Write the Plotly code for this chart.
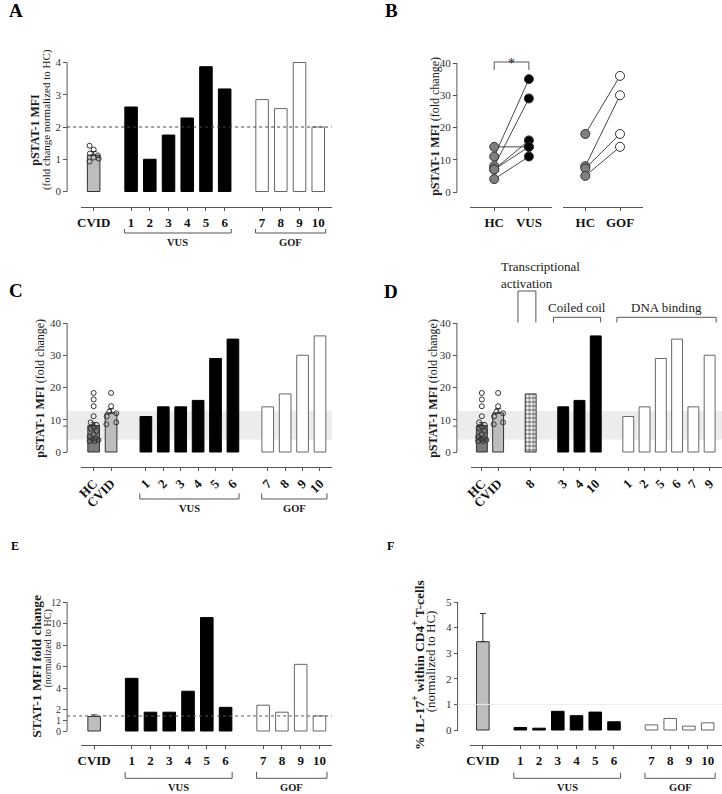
import plotly.graph_objects as go

W, H = 722, 794
FONT = "Liberation Serif"
AXC = "#555555"
TXC = "#1a1a1a"


def px(x):
    return x / W


def py(y):
    return 1 - y / H


# ---------------------------------------------------------------- data
# Panel A: pSTAT-1 MFI (fold change normalized to HC)
a_groups = [["CVID"], ["1", "2", "3", "4", "5", "6"], ["7", "8", "9", "10"]]
a_group_names = ["VUS", "GOF"]
a_cvid_mean = 1.13
a_cvid_sem = 0.11
a_cvid_dots = [1.42, 1.30, 1.18, 1.12, 1.05, 1.02, 0.93]
a_vus = [2.62, 1.00, 1.75, 2.28, 3.87, 3.18]
a_gof = [2.85, 2.57, 4.00, 2.00]
a_cutoff = 2.0
a_yticks = [0, 1, 2, 3, 4]

# Panel B: paired HC vs patient
b_cats = ["HC", "VUS"]
b_cats2 = ["HC", "GOF"]
b_hc_vus = [14, 11, 8, 7, 7, 4]
b_vus = [14, 35, 29, 16, 14, 11]
b_hc_gof = [18, 8, 7.3, 5]
b_gof = [36, 30, 18, 14]
b_yticks = [0, 10, 20, 30, 40]

# Panel C: pSTAT-1 MFI (fold change)
c_groups = [["HC", "CVID"], ["1", "2", "3", "4", "5", "6"], ["7", "8", "9", "10"]]
c_hc_mean = 8.2
c_hc_sem = 0.9
c_cvid_mean = 12.1
c_cvid_sem = 1.3
c_hc_dots = [18.3, 16.3, 14.2, 11.1, 9.2, 8.4, 7.8, 7.3, 6.5, 5.5, 4.7, 4.2, 3.7, 3.4, 3.4, 4.0]
c_cvid_dots = [18.3, 14.2, 12.5, 12.0, 11.0, 9.2, 8.6]
c_vus = [11, 14, 14, 16, 29, 35]
c_gof = [14, 18, 30, 36]
c_band = [3.9, 12.7]
c_yticks = [0, 10, 20, 30, 40]
c_hc_tick = 8

# Panel D: same values grouped by STAT1 domain
d_groups = [["HC", "CVID"], ["8"], ["3", "4", "10"], ["1", "2", "5", "6", "7", "9"]]
d_domains = ["Transcriptional<br>activation", "Coiled coil", "DNA binding"]
d_ta = [18]
d_cc = [14, 16, 36]
d_dna = [11, 14, 29, 35, 14, 30]

# Panel E: STAT-1 MFI fold change (normalized to HC)
e_groups = a_groups
e_cvid_mean = 1.35
e_cvid_sem = 0.15
e_vus = [4.9, 1.75, 1.75, 3.7, 10.55, 2.2]
e_gof = [2.4, 1.75, 6.2, 1.4]
e_cutoff = 1.4
e_yticks = [0, 1, 2, 4, 6, 8, 10, 12]

# Panel F: % IL-17+ within CD4+ T-cells (normalized to HC)
f_groups = a_groups
f_cvid_mean = 3.45
f_cvid_sd = 1.1
f_vus = [0.10, 0.07, 0.73, 0.56, 0.70, 0.32]
f_gof = [0.20, 0.45, 0.15, 0.28]
f_ref = 1.0
f_yticks = [0, 1, 2, 3, 4, 5]

# presentation-only horizontal scatter of dots (category units)
a_dot_jit = [-0.22, 0.0, -0.2, 0.22, 0.0, 0.27, -0.22]
c_hc_jit = [0, 0, 0, 0, -0.17, 0.17, 0, -0.17, 0.17, 0, -0.23, 0.11, 0.28, -0.23, 0.06, -0.06]
c_cvid_jit = [0, 0, -0.1, 0.3, -0.25, 0.3, -0.27]

# colours
VUS_C = "#000000"
GOF_C = "#ffffff"
CVID_C = "#bdbdbd"
HC_C = "#7a7a7a"
BW = 0.67


def slots(groups):
    pos, p = [], 0
    for g in groups:
        for _ in g:
            pos.append(p)
            p += 1
        p += 1
    return pos


def flat(groups):
    return [c for g in groups for c in g]


def xr(dom, x0, dx):
    return [(dom[0] - x0) / dx, (dom[1] - x0) / dx]


def yr(dom, y0, ypx, yval):
    k = (y0 - ypx) / yval
    return [(y0 - dom[0]) / k, (y0 - dom[1]) / k]


layout = dict(
    width=W, height=H, margin=dict(l=0, r=0, t=0, b=0),
    paper_bgcolor="white", plot_bgcolor="rgba(0,0,0,0)",
    barmode="overlay", showlegend=False,
    font=dict(family=FONT, color=TXC),
)
shapes = []
annotations = []
fig = go.Figure()


def xaxis_cfg(dom, rng, anchor, tickvals, ticktext, angle=0, size=13):
    return dict(domain=[px(dom[0]), px(dom[1])], range=rng, anchor=anchor,
                showgrid=False, zeroline=False, showline=True, linecolor=AXC, linewidth=1,
                ticks="outside", ticklen=3, tickcolor=AXC, tickwidth=1,
                tickvals=tickvals, ticktext=["<b>%s</b>" % t for t in ticktext],
                tickfont=dict(family=FONT, size=size, color="#111111"),
                tickangle=angle, fixedrange=True)


def yaxis_cfg(dom, rng, pos, tickvals, size=11):
    return dict(domain=[py(dom[0]), py(dom[1])], range=rng, anchor="free", position=px(pos),
                showgrid=False, zeroline=False, showline=False,
                ticks="outside", ticklen=4, tickcolor=AXC, tickwidth=1,
                tickvals=tickvals, ticktext=[str(t) for t in tickvals],
                tickfont=dict(family=FONT, size=size, color="#333333"),
                fixedrange=True)


def yline(yref, pos, top):
    shapes.append(dict(type="line", xref="paper", yref=yref, x0=px(pos), x1=px(pos),
                       y0=0, y1=top, line=dict(color=AXC, width=1)))


def ytick(yref, pos, y):
    shapes.append(dict(type="line", xref="paper", yref=yref, x0=px(pos - 4), x1=px(pos),
                       y0=y, y1=y, line=dict(color=AXC, width=1)))


def bracket(xref, x0, x1, ytop, ybot, label, label_y, size=10.5):
    shapes.append(dict(type="path", xref=xref, yref="paper",
                       path="M %f,%f L %f,%f L %f,%f L %f,%f" % (
                           x0, py(ytop), x0, py(ybot), x1, py(ybot), x1, py(ytop)),
                       line=dict(color=AXC, width=1)))
    annotations.append(dict(xref=xref, yref="paper", x=(x0 + x1) / 2, y=py(label_y),
                            text="<b>%s</b>" % label, showarrow=False, xanchor="center",
                            yanchor="middle", font=dict(family=FONT, size=size, color=TXC)))


def bars(xa, ya, xs, ys, fill, line, err=None, pattern=None):
    kw = {}
    if err is not None:
        kw["error_y"] = dict(type="data", array=[err], arrayminus=[0], symmetric=False,
                             color="#333333", thickness=1, width=3)
    marker = dict(color=fill, line=dict(color=line, width=1))
    if pattern is not None:
        marker["pattern"] = pattern
    fig.add_trace(go.Bar(x=xs, y=ys, width=BW, marker=marker, xaxis=xa, yaxis=ya,
                         hoverinfo="skip", **kw))


def dots(xa, ya, center, vals, jit, size=5):
    fig.add_trace(go.Scatter(x=[center + j for j in jit], y=vals, mode="markers",
                             marker=dict(symbol="circle-open", size=size, color="#333333",
                                         line=dict(width=1)),
                             xaxis=xa, yaxis=ya, hoverinfo="skip", cliponaxis=False))


def hline(yref, y, x0p, x1p, color, dash):
    shapes.append(dict(type="line", xref="paper", yref=yref, x0=px(x0p), x1=px(x1p),
                       y0=y, y1=y, line=dict(color=color, width=1, dash=dash)))


def label(x, y, text, size, angle=0, xanchor="center", align="center"):
    annotations.append(dict(xref="paper", yref="paper", x=px(x), y=py(y), text=text,
                            showarrow=False, textangle=angle, xanchor=xanchor,
                            yanchor="middle", align=align,
                            font=dict(family=FONT, size=size, color=TXC)))


def letter(x, y, text, size):
    annotations.append(dict(xref="paper", yref="paper", x=px(x), y=py(y),
                            text="<b>%s</b>" % text, showarrow=False,
                            xanchor="center", yanchor="middle",
                            font=dict(family=FONT, size=size, color="#000000")))


# ================================================================ Panel A
pos = slots(a_groups)
labels = flat(a_groups)
xdom, ydom = (75, 328), (207, 50)
layout["xaxis"] = xaxis_cfg(xdom, xr(xdom, 87.5, 18.9), "y", pos, labels)
layout["yaxis"] = yaxis_cfg(ydom, yr(ydom, 191.5, 62.5, 4), 60.7, a_yticks)
yline("y", 60.7, 4)
hline("y", a_cutoff, 60.7, 328, "#444444", "dot")
bars("x", "y", [pos[0]], [a_cvid_mean], CVID_C, "#333333", err=a_cvid_sem)
dots("x", "y", pos[0], a_cvid_dots, a_dot_jit)
bars("x", "y", pos[1:7], a_vus, VUS_C, VUS_C)
bars("x", "y", pos[7:], a_gof, GOF_C, "#666666")
bracket("x", pos[1] - 0.35, pos[6] + 0.35, 229, 233, a_group_names[0], 242)
bracket("x", pos[7] - 0.35, pos[10] + 0.4, 229, 233, a_group_names[1], 242)
label(28, 130, "<b>pSTAT-1 MFI</b>", 12, -90)
label(39.5, 120, "(fold change normalized to HC)", 11, -90)
letter(9, 11, "A", 19)

# ================================================================ Panel B
ydom = (207, 40)
layout["yaxis2"] = yaxis_cfg(ydom, yr(ydom, 192, 63, 40), 454.3, b_yticks)
xd1, xd2 = (468, 550), (561, 642)
layout["xaxis2"] = xaxis_cfg(xd1, xr(xd1, 492, 35), "y2", [0, 1], b_cats)
layout["xaxis3"] = xaxis_cfg(xd2, xr(xd2, 584, 35), "y2", [0, 1], b_cats2)
yline("y2", 454.3, 40)
for h, v in zip(b_hc_vus, b_vus):
    fig.add_trace(go.Scatter(x=[0, 1], y=[h, v], mode="lines", line=dict(color="#333333", width=0.9),
                             xaxis="x2", yaxis="y2", hoverinfo="skip"))
for h, v in zip(b_hc_gof, b_gof):
    fig.add_trace(go.Scatter(x=[0, 1], y=[h, v], mode="lines", line=dict(color="#333333", width=0.9),
                             xaxis="x3", yaxis="y2", hoverinfo="skip"))
mk = dict(size=9, line=dict(color="#333333", width=1))
fig.add_trace(go.Scatter(x=[0] * len(b_hc_vus), y=b_hc_vus, mode="markers",
                         marker=dict(color="#7f7f7f", **mk), xaxis="x2", yaxis="y2", hoverinfo="skip"))
fig.add_trace(go.Scatter(x=[1] * len(b_vus), y=b_vus, mode="markers",
                         marker=dict(color="#000000", **mk), xaxis="x2", yaxis="y2", hoverinfo="skip"))
fig.add_trace(go.Scatter(x=[0] * len(b_hc_gof), y=b_hc_gof, mode="markers",
                         marker=dict(color="#7f7f7f", **mk), xaxis="x3", yaxis="y2", hoverinfo="skip"))
fig.add_trace(go.Scatter(x=[1] * len(b_gof), y=b_gof, mode="markers",
                         marker=dict(color="#ffffff", **mk), xaxis="x3", yaxis="y2", hoverinfo="skip"))
shapes.append(dict(type="path", xref="x2", yref="paper",
                   path="M 0,%f L 0,%f L 1,%f L 1,%f" % (py(70), py(62), py(62), py(70)),
                   line=dict(color=AXC, width=1)))
annotations.append(dict(xref="x2", yref="paper", x=0.5, y=py(54), text="*", showarrow=False,
                        font=dict(family=FONT, size=14, color=TXC)))
label(432, 126, "<b>pSTAT-1 MFI</b> (fold change)", 12, -90)
letter(388, 11, "B", 19)

# ================================================================ Panel C
pos = slots(c_groups)
labels = flat(c_groups)
xdom, ydom = (75, 328), (467, 300)
layout["xaxis4"] = xaxis_cfg(xdom, xr(xdom, 87.5, 17.58), "y3", pos, labels, angle=-45, size=13)
layout["yaxis3"] = yaxis_cfg(ydom, yr(ydom, 452, 323, 40), 60.7, c_yticks)
yline("y3", 60.7, 40)
ytick("y3", 60.7, c_hc_tick)
shapes.append(dict(type="rect", xref="paper", yref="y3", x0=px(61.5), x1=px(328),
                   y0=c_band[0], y1=c_band[1], fillcolor="#ececec", line=dict(width=0), layer="below"))
bars("x4", "y3", [pos[0]], [c_hc_mean], HC_C, "#333333", err=c_hc_sem)
bars("x4", "y3", [pos[1]], [c_cvid_mean], CVID_C, "#333333", err=c_cvid_sem)
dots("x4", "y3", pos[0], c_hc_dots, c_hc_jit)
dots("x4", "y3", pos[1], c_cvid_dots, c_cvid_jit)
bars("x4", "y3", pos[2:8], c_vus, VUS_C, VUS_C)
bars("x4", "y3", pos[8:], c_gof, GOF_C, "#666666")
bracket("x4", pos[2] - 0.35, pos[7] + 0.35, 493.3, 499, "VUS", 508.5)
bracket("x4", pos[8] - 0.35, pos[11] + 0.4, 493.3, 499, "GOF", 508.5)
label(33, 388, "<b>pSTAT-1 MFI</b> (fold change)", 12, -90)
letter(9, 290, "C", 19)

# ================================================================ Panel D
pos = slots(d_groups)
labels = flat(d_groups)
xdom, ydom = (469, 722), (467, 300)
layout["xaxis5"] = xaxis_cfg(xdom, xr(xdom, 479.5, 16.43), "y4", pos, labels, angle=-45, size=13)
layout["yaxis4"] = yaxis_cfg(ydom, yr(ydom, 452, 323, 40), 454.3, c_yticks)
yline("y4", 454.3, 40)
ytick("y4", 454.3, c_hc_tick)
shapes.append(dict(type="rect", xref="paper", yref="y4", x0=px(455), x1=px(722),
                   y0=c_band[0], y1=c_band[1], fillcolor="#ececec", line=dict(width=0), layer="below"))
bars("x5", "y4", [pos[0]], [c_hc_mean], HC_C, "#333333", err=c_hc_sem)
bars("x5", "y4", [pos[1]], [c_cvid_mean], CVID_C, "#333333", err=c_cvid_sem)
dots("x5", "y4", pos[0], c_hc_dots, c_hc_jit)
dots("x5", "y4", pos[1], c_cvid_dots, c_cvid_jit)
bars("x5", "y4", pos[2:3], d_ta, "#ffffff", "#333333",
     pattern=dict(shape=".", fgcolor="#000000", bgcolor="#ffffff", size=4, solidity=0.6))
bars("x5", "y4", pos[3:6], d_cc, VUS_C, VUS_C)
bars("x5", "y4", pos[6:], d_dna, GOF_C, "#666666")
# domain brackets
ta_x0, ta_x1 = pos[2] - 0.78, pos[2] + 0.32
shapes.append(dict(type="path", xref="x5", yref="paper",
                   path="M %f,%f L %f,%f L %f,%f L %f,%f" % (
                       ta_x0, py(322.5), ta_x0, py(291), ta_x1, py(291), ta_x1, py(322.5)),
                   line=dict(color=AXC, width=1)))
for (g0, g1, l0, l1, name) in [(3, 5, 0.6, 0.3, d_domains[1]), (6, 11, 0.7, 0.4, d_domains[2])]:
    x0, x1 = pos[g0] - l0, pos[g1] + l1
    shapes.append(dict(type="path", xref="x5", yref="paper",
                       path="M %f,%f L %f,%f L %f,%f L %f,%f" % (
                           x0, py(322.5), x0, py(317.3), x1, py(317.3), x1, py(322.5)),
                       line=dict(color=AXC, width=1)))
    annotations.append(dict(xref="x5", yref="paper", x=(x0 + x1) / 2, y=py(308), text=name,
                            showarrow=False, font=dict(family=FONT, size=13, color=TXC)))
annotations.append(dict(xref="paper", yref="paper", x=px(497), y=py(275), text=d_domains[0],
                        showarrow=False, xanchor="left", align="left",
                        font=dict(family=FONT, size=13, color=TXC)))
label(430, 388, "<b>pSTAT-1 MFI</b> (fold change)", 12, -90)
letter(388, 291, "D", 19)

# ================================================================ Panel E
pos = slots(e_groups)
labels = flat(e_groups)
xdom, ydom = (75, 328), (745, 590)
layout["xaxis6"] = xaxis_cfg(xdom, xr(xdom, 88, 18.96), "y5", pos, labels)
layout["yaxis5"] = yaxis_cfg(ydom, yr(ydom, 731, 602, 12), 60.7, e_yticks, size=10)
yline("y5", 60.7, 12)
hline("y5", e_cutoff, 60.7, 328, "#555555", "dot")
bars("x6", "y5", [pos[0]], [e_cvid_mean], CVID_C, "#333333", err=e_cvid_sem)
bars("x6", "y5", pos[1:7], e_vus, VUS_C, VUS_C)
bars("x6", "y5", pos[7:], e_gof, GOF_C, "#666666")
bracket("x6", pos[1] - 0.35, pos[6] + 0.35, 771.7, 778.3, "VUS", 787)
bracket("x6", pos[7] - 0.35, pos[10] + 0.4, 771.7, 778.3, "GOF", 787)
label(29, 666, "<b>STAT-1 MFI fold change</b>", 13.5, -90)
label(41, 649, "(normalized to HC)", 10, -90)
letter(8, 546, "E", 12)

# ================================================================ Panel F
pos = slots(f_groups)
labels = flat(f_groups)
xdom, ydom = (468, 722), (745, 590)
layout["xaxis7"] = xaxis_cfg(xdom, xr(xdom, 480.5, 18.92), "y6", pos, labels)
layout["yaxis6"] = yaxis_cfg(ydom, yr(ydom, 730, 602, 5), 455, f_yticks)
yline("y6", 455, 5)
hline("y6", f_ref, 455, 722, "#eeeeee", "solid")
bars("x7", "y6", [pos[0]], [f_cvid_mean], CVID_C, "#333333", err=f_cvid_sd)
bars("x7", "y6", pos[1:7], f_vus, VUS_C, VUS_C)
bars("x7", "y6", pos[7:], f_gof, GOF_C, "#666666")
bracket("x7", pos[1] - 0.35, pos[6] + 0.35, 772.7, 778.3, "VUS", 787)
bracket("x7", pos[7] - 0.35, pos[10] + 0.4, 772.7, 778.3, "GOF", 787)
label(415, 665, "<b>% IL-17<sup>+</sup> within CD4<sup>+</sup> T-cells</b>", 13.5, -90)
label(427.5, 661, "(normalized to HC)", 13, -90)
letter(387, 546, "F", 12)

layout["shapes"] = shapes
layout["annotations"] = annotations
fig.update_layout(**layout)
fig.write_html("out.html", config={"displayModeBar": False, "staticPlot": True},
               post_script="document.body.style.margin='0';document.body.style.overflow='hidden';")
